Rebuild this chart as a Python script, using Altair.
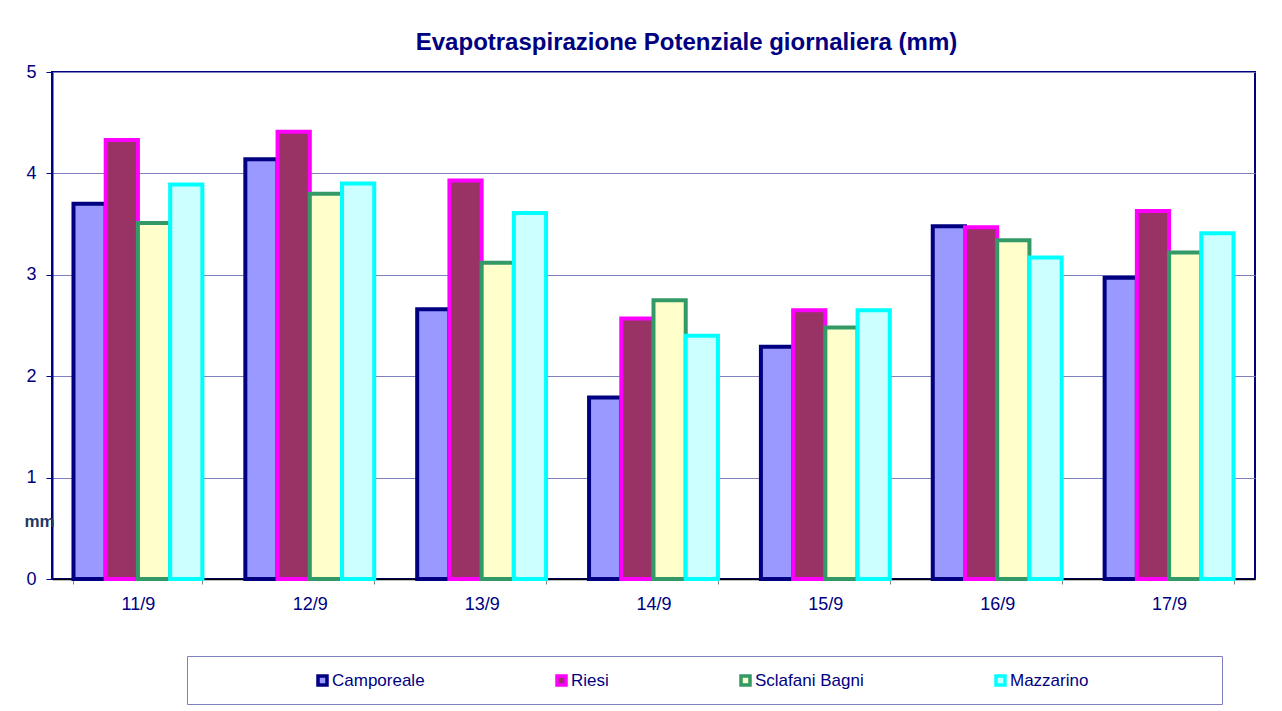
import altair as alt
import pandas as pd

days = ["11/9", "12/9", "13/9", "14/9", "15/9", "16/9", "17/9"]
series = ["Camporeale", "Riesi", "Sclafani Bagni", "Mazzarino"]
camporeale = [3.70, 4.14, 2.66, 1.79, 2.29, 3.48, 2.97]
riesi = [4.33, 4.41, 3.93, 2.57, 2.65, 3.47, 3.63]
sclafani = [3.51, 3.80, 3.12, 2.75, 2.48, 3.34, 3.22]
mazzarino = [3.89, 3.90, 3.61, 2.40, 2.65, 3.17, 3.41]

fills = ["#9999FF", "#993366", "#FFFFCC", "#CCFFFF"]
borders = ["#000080", "#FF00FF", "#339966", "#00FFFF"]

rows = []
for s, vals in zip(series, [camporeale, riesi, sclafani, mazzarino]):
    for d, v in zip(days, vals):
        rows.append({"day": d, "series": s, "value": v})
df = pd.DataFrame(rows)

FONT = "Liberation Sans"
NAVY = "#000080"
GRID = "#8080C0"

legend = alt.Legend(
    title=None, orient="none", legendX=262, legendY=600, padding=0,
    direction="horizontal", columns=4, columnPadding=125,
    symbolType="square", symbolSize=81, symbolStrokeWidth=3.5,
    labelFont=FONT, labelFontSize=17, labelColor=NAVY, labelOffset=1,
)

main = alt.Chart(df).mark_bar(strokeWidth=4, strokeJoin="miter").encode(
    x=alt.X(
        "day:N", sort=days,
        scale=alt.Scale(paddingInner=0.25, paddingOuter=0.125),
        axis=alt.Axis(
            title=None, labelAngle=0, labelFont=FONT, labelFontSize=18,
            labelColor=NAVY, tickBand="extent", tickColor="#808080",
            tickSize=5, domainColor="#000000", domainWidth=1.5, labelPadding=11,
        ),
    ),
    xOffset=alt.XOffset("series:N", sort=series,
                        scale=alt.Scale(paddingInner=0, paddingOuter=0)),
    y=alt.Y(
        "value:Q",
        scale=alt.Scale(domain=[0, 5], nice=False),
        axis=alt.Axis(
            values=[0, 1, 2, 3, 4, 5], title="mm", titleAngle=0,
            titleX=-13, titleY=449, titleAlign="center", titleBaseline="middle",
            titleFont=FONT, titleFontSize=17, titleFontWeight="bold",
            titleColor="#1F3864", labelFont=FONT, labelFontSize=18,
            labelColor=NAVY, labelPadding=10, tickColor=NAVY, tickSize=6,
            domainColor=NAVY, domainWidth=2, gridColor=GRID, gridWidth=1,
        ),
    ),
    fill=alt.Fill("series:N", sort=series,
                  scale=alt.Scale(domain=series, range=fills), legend=legend),
    stroke=alt.Stroke("series:N", sort=series,
                      scale=alt.Scale(domain=series, range=borders), legend=legend),
).properties(
    width=1203, height=507,
    title=alt.TitleParams(
        "Evapotraspirazione Potenziale giornaliera (mm)", font=FONT,
        fontSize=24, fontWeight="bold", color=NAVY, dx=33, offset=8,
        anchor="middle",
    ),
    view=alt.ViewBackground(stroke=NAVY, strokeWidth=2),
)

blank = pd.DataFrame({"a": [0]})
spacer = alt.Chart(blank).mark_text(text="").encode(x=alt.value(0)).properties(
    width=133, height=48, view=alt.ViewBackground(stroke="transparent"))
box = alt.Chart(blank).mark_text(text="").encode(x=alt.value(0)).properties(
    width=1035, height=48, view=alt.ViewBackground(stroke=GRID, strokeWidth=1))

chart = alt.vconcat(
    main,
    alt.hconcat(spacer, box, spacing=0),
    spacing=41,
).properties(
    padding={"left": 14, "top": 22, "right": 5, "bottom": 5},
).configure(background="white")

chart.save("out.html", embed_options={"renderer": "svg", "actions": False})
